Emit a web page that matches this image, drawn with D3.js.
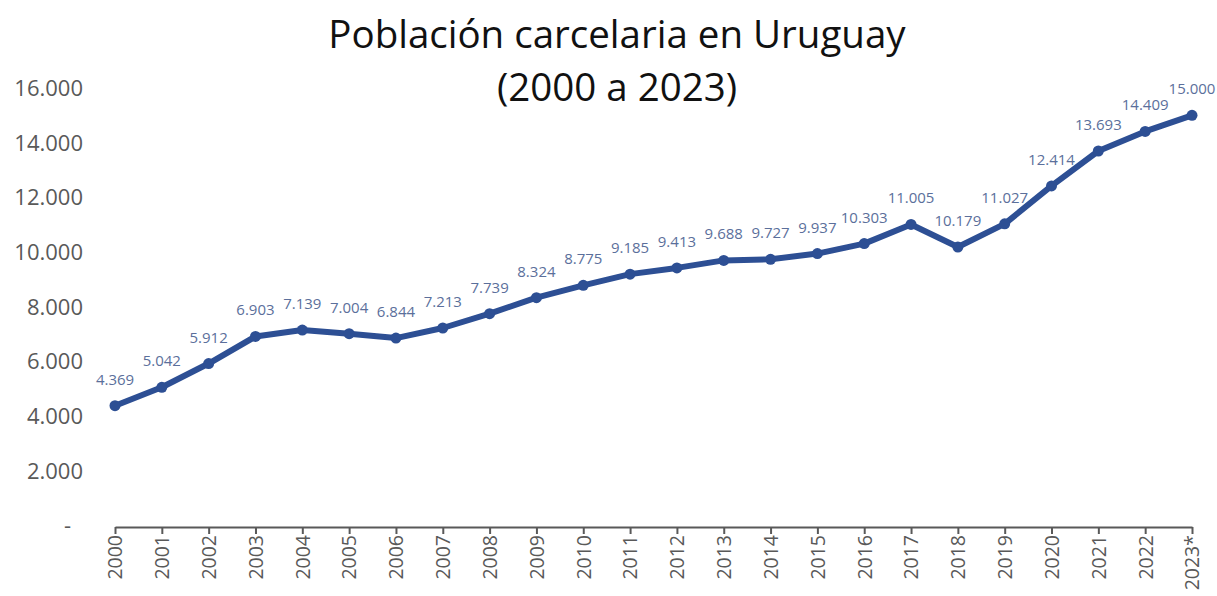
<!DOCTYPE html>
<html>
<head>
<meta charset="utf-8">
<script src="https://cdn.jsdelivr.net/npm/d3@7"></script>
<style>
  body { margin: 0; background: #fff; }
  svg { display: block; }
</style>
</head>
<body>
<svg width="1217" height="596"></svg>
<script>
// datos: población carcelaria por año
var years = ["2000", "2001", "2002", "2003", "2004", "2005", "2006", "2007", "2008", "2009", "2010", "2011",
             "2012", "2013", "2014", "2015", "2016", "2017", "2018", "2019", "2020", "2021", "2022", "2023*"];
var prisoners = [4369, 5042, 5912, 6903, 7139, 7004, 6844, 7213, 7739, 8324, 8775, 9185,
                 9413, 9688, 9727, 9937, 10303, 11005, 10179, 11027, 12414, 13693, 14409, 15000];
var yTicks = [0, 2000, 4000, 6000, 8000, 10000, 12000, 14000, 16000];

var svg = d3.select("svg");

var fmt = function(v) {
	if (v === 0) return "-";
	return d3.format(",")(v).replace(/,/g, ".");
};

var x = d3.scalePoint()
	.domain(years)
	.range([115, 1192]);

var y = d3.scaleLinear()
	.domain([0, 16000])
	.range([525, 88]);

// título
svg.append("text")
	.attr("x", 617).attr("y", 48)
	.attr("text-anchor", "middle")
	.attr("font-family", "Open Sans")
	.attr("font-size", 38.5)
	.attr("fill", "#111")
	.text("Población carcelaria en Uruguay");
svg.append("text")
	.attr("x", 617).attr("y", 101)
	.attr("text-anchor", "middle")
	.attr("font-family", "Open Sans")
	.attr("font-size", 38.5)
	.attr("fill", "#111")
	.text("(2000 a 2023)");

// eje y (sin línea)
var yAxis = svg.append("g")
	.attr("transform", "translate(83,0)")
	.call(d3.axisLeft(y).tickValues(yTicks).tickFormat(fmt).tickSize(0).tickPadding(0));
yAxis.select(".domain").remove();
yAxis.selectAll("text")
	.attr("font-family", "Open Sans")
	.attr("font-size", 22)
	.attr("fill", "#595959")
	.attr("dy", "0.35em");
yAxis.selectAll(".tick").filter(function(d) { return d === 0; }).select("text")
	.attr("dx", -12);

// eje x
var xAxis = svg.append("g")
	.attr("transform", "translate(0,527)")
	.call(d3.axisBottom(x).tickSize(7).tickSizeOuter(0));
xAxis.select(".domain").attr("stroke", "#595959").attr("stroke-width", 2);
xAxis.selectAll(".tick line").attr("stroke", "#595959").attr("stroke-width", 2);
xAxis.selectAll("text")
	.attr("font-family", "Open Sans")
	.attr("font-size", 19.5)
	.attr("fill", "#595959")
	.attr("transform", "rotate(-90)")
	.attr("text-anchor", "end")
	.attr("x", -8)
	.attr("y", 0)
	.attr("dy", "0.35em");

// línea
var line = d3.line()
	.x(function(d, i) { return x(years[i]); })
	.y(function(d) { return y(d); });

svg.append("path")
	.datum(prisoners)
	.attr("d", line)
	.attr("fill", "none")
	.attr("stroke", "#2d4f94")
	.attr("stroke-width", 6)
	.attr("stroke-linejoin", "round");

svg.append("g")
	.selectAll("circle")
	.data(prisoners)
	.enter().append("circle")
	.attr("cx", function(d, i) { return x(years[i]); })
	.attr("cy", function(d) { return y(d); })
	.attr("r", 5.5)
	.attr("fill", "#2d4f94");

// etiquetas de valores
svg.append("g")
	.selectAll("text")
	.data(prisoners)
	.enter().append("text")
	.attr("x", function(d, i) { return x(years[i]); })
	.attr("y", function(d) { return y(d) - 21; })
	.attr("text-anchor", "middle")
	.attr("font-family", "Open Sans")
	.attr("font-size", 15)
	.attr("fill", "#5b6f9b")
	.text(fmt);
</script>
</body>
</html>
